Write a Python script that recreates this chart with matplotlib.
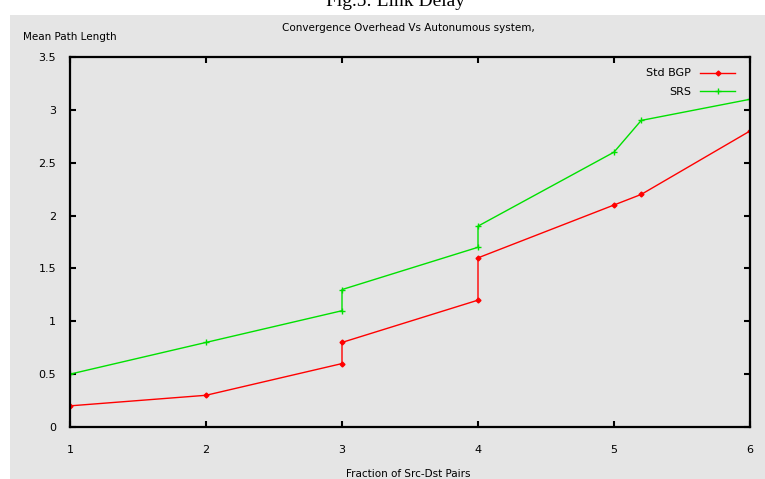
import matplotlib
matplotlib.use("Agg")
import matplotlib.pyplot as plt
from matplotlib.patches import Rectangle

# data
bgp_x = [1, 2, 3, 3, 4, 4, 5, 5.2, 6]
bgp_y = [0.2, 0.3, 0.6, 0.8, 1.2, 1.6, 2.1, 2.2, 2.8]
srs_x = [1, 2, 3, 3, 4, 4, 5, 5.2, 6]
srs_y = [0.5, 0.8, 1.1, 1.3, 1.7, 1.9, 2.6, 2.9, 3.1]
xticks = [1, 2, 3, 4, 5, 6]
yticks = [0, 0.5, 1, 1.5, 2, 2.5, 3, 3.5]

W, H = 765, 479
fig = plt.figure(figsize=(W / 100, H / 100), dpi=100)
fig.patch.set_facecolor("white")
# gray panel behind the gnuplot output
fig.patches.append(Rectangle((10 / W, 0), 1 - 10 / W, 1 - 15 / H,
                             transform=fig.transFigure, facecolor="#e5e5e5",
                             edgecolor="none", zorder=-5))

ax = fig.add_axes([70 / W, 1 - 427 / H, 680 / W, 370 / H])
ax.set_zorder(2)
ax.set_facecolor("#e5e5e5")

ax.plot(bgp_x, bgp_y, color="#ff0000", lw=1, marker="D", ms=2.5, label="Std BGP")
ax.plot(srs_x, srs_y, color="#00e000", lw=1, marker="+", ms=5, mew=1, label="SRS")

ax.set_xlim(1, 6)
ax.set_ylim(0, 3.5)
ax.set_xticks(xticks)
ax.set_xticklabels([str(v) for v in xticks])
ax.set_yticks(yticks)
ax.set_yticklabels(["0", "0.5", "1", "1.5", "2", "2.5", "3", "3.5"])
ax.tick_params(direction="in", top=True, right=True, length=4, width=1.5,
               labelsize=8, colors="black", pad=10)
ax.tick_params(axis="x", pad=13)
for s in ax.spines.values():
    s.set_linewidth(1.6)

leg = ax.legend(loc="upper right", frameon=False, markerfirst=False,
                fontsize=8, handlelength=3.2, borderaxespad=0.3,
                labelspacing=0.8, bbox_to_anchor=(0.99, 0.99))

fig.text(408 / W, 1 - 28 / H, "Convergence Overhead Vs Autonumous system,",
         ha="center", va="center", fontsize=7.5)
fig.text(23 / W, 1 - 37 / H, "Mean Path Length", ha="left", va="center",
         fontsize=7.5)
fig.text(408 / W, 1 - 474 / H, "Fraction of Src-Dst Pairs", ha="center",
         va="center", fontsize=7.5)
fig.text(395 / W, 1 - 6 / H, "Fig.5: Link Delay", ha="center", va="baseline",
         fontsize=14, family="Liberation Serif")

fig.savefig("out.png", dpi=100)
